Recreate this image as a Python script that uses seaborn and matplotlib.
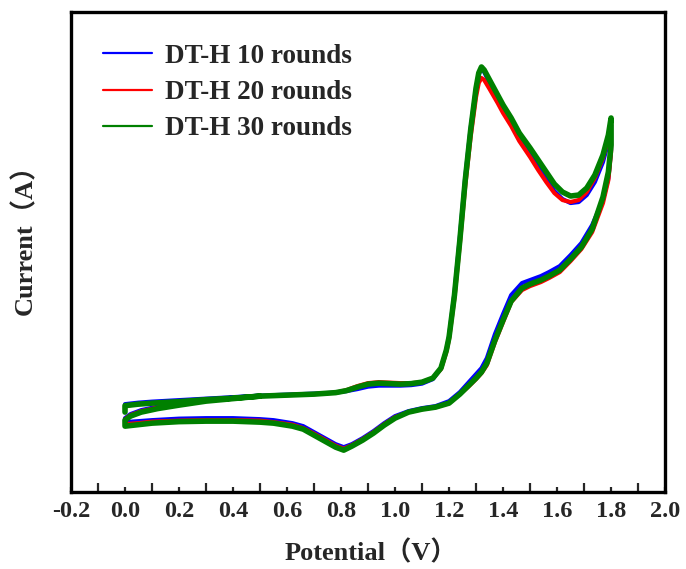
import matplotlib
matplotlib.use("Agg")
import matplotlib.pyplot as plt
from matplotlib.ticker import MultipleLocator
import seaborn as sns
import pandas as pd

# potentials (V) for forward scan, reverse scan and the start of the next cycle
fwd_v = [0.00, 0.00, 0.05, 0.10, 0.20, 0.30, 0.40, 0.50, 0.60, 0.70,
         0.78, 0.82, 0.86, 0.90, 0.94, 0.98, 1.02, 1.06, 1.10, 1.14,
         1.17, 1.19, 1.20, 1.22, 1.24, 1.26, 1.28, 1.30, 1.31, 1.32,
         1.33, 1.35, 1.38, 1.40, 1.43, 1.46, 1.50, 1.53, 1.56, 1.59,
         1.62, 1.65, 1.68, 1.71, 1.74, 1.77, 1.79, 1.80]
rev_v = [1.80, 1.79, 1.77, 1.73, 1.69, 1.65, 1.61, 1.57, 1.54, 1.50,
         1.47, 1.43, 1.40, 1.37, 1.34, 1.32, 1.30, 1.27, 1.24, 1.20,
         1.15, 1.10, 1.05, 1.00, 0.96, 0.92, 0.88, 0.84, 0.81, 0.78,
         0.74, 0.70, 0.66, 0.62, 0.55, 0.50, 0.40, 0.30, 0.20, 0.10,
         0.05, 0.00]
next_v = [0.00, 0.02, 0.06, 0.12, 0.20, 0.30, 0.40, 0.50]

labels = ["DT-H 10 rounds", "DT-H 20 rounds", "DT-H 30 rounds"]
colors = ["#0000FF", "#FF0000", "#008000"]

# current (arbitrary units, mA)
fwd_10 = [0.21, 0.26, 0.275, 0.285, 0.30, 0.315, 0.33, 0.345, 0.355, 0.365,
          0.375, 0.39, 0.41, 0.435, 0.445, 0.445, 0.445, 0.45, 0.465, 0.51,
          0.62, 0.80, 0.94, 1.37, 1.93, 2.53, 3.02, 3.42, 3.56, 3.61,
          3.58, 3.47, 3.32, 3.21, 3.07, 2.92, 2.76, 2.63, 2.51, 2.39,
          2.31, 2.27, 2.28, 2.35, 2.48, 2.68, 2.88, 3.05]
fwd_20 = [0.20, 0.245, 0.26, 0.27, 0.285, 0.305, 0.32, 0.34, 0.35, 0.36,
          0.375, 0.40, 0.44, 0.47, 0.48, 0.475, 0.47, 0.47, 0.48, 0.52,
          0.61, 0.78, 0.91, 1.32, 1.86, 2.44, 2.93, 3.33, 3.47, 3.52,
          3.50, 3.41, 3.27, 3.17, 3.04, 2.89, 2.73, 2.60, 2.48, 2.37,
          2.30, 2.28, 2.30, 2.38, 2.52, 2.72, 2.92, 3.10]
fwd_30 = [0.18, 0.245, 0.26, 0.27, 0.285, 0.305, 0.32, 0.34, 0.35, 0.36,
          0.375, 0.395, 0.43, 0.46, 0.47, 0.465, 0.46, 0.465, 0.48, 0.52,
          0.62, 0.80, 0.93, 1.35, 1.90, 2.50, 3.00, 3.42, 3.57, 3.63,
          3.60, 3.50, 3.35, 3.25, 3.12, 2.97, 2.82, 2.70, 2.58, 2.46,
          2.38, 2.34, 2.35, 2.42, 2.55, 2.75, 2.95, 3.12]

rev_10 = [2.80, 2.52, 2.30, 2.05, 1.87, 1.75, 1.64, 1.58, 1.54, 1.50,
          1.47, 1.35, 1.16, 0.96, 0.72, 0.62, 0.56, 0.47, 0.38, 0.29,
          0.24, 0.22, 0.19, 0.14, 0.07, -0.01, -0.08, -0.14, -0.17, -0.14,
          -0.08, -0.02, 0.04, 0.07, 0.10, 0.11, 0.12, 0.12, 0.115, 0.10,
          0.09, 0.08]
rev_20 = [2.78, 2.50, 2.27, 1.98, 1.81, 1.69, 1.58, 1.52, 1.48, 1.44,
          1.40, 1.28, 1.08, 0.88, 0.65, 0.57, 0.51, 0.43, 0.36, 0.27,
          0.23, 0.21, 0.18, 0.13, 0.06, -0.02, -0.09, -0.15, -0.185, -0.155,
          -0.095, -0.035, 0.02, 0.055, 0.08, 0.095, 0.10, 0.10, 0.095, 0.085,
          0.07, 0.06]
rev_30 = [2.85, 2.58, 2.33, 2.01, 1.83, 1.71, 1.60, 1.54, 1.50, 1.46,
          1.42, 1.29, 1.10, 0.90, 0.67, 0.58, 0.52, 0.44, 0.36, 0.27,
          0.23, 0.21, 0.18, 0.12, 0.05, -0.03, -0.10, -0.16, -0.20, -0.17,
          -0.11, -0.05, 0.01, 0.04, 0.07, 0.08, 0.09, 0.09, 0.085, 0.07,
          0.055, 0.04]

next_10 = [0.12, 0.16, 0.20, 0.235, 0.265, 0.30, 0.325, 0.345]
next_20 = [0.11, 0.15, 0.19, 0.225, 0.255, 0.295, 0.32, 0.34]
next_30 = [0.10, 0.14, 0.18, 0.215, 0.25, 0.29, 0.315, 0.34]

curves = {
    labels[0]: (fwd_10, rev_10, next_10),
    labels[1]: (fwd_20, rev_20, next_20),
    labels[2]: (fwd_30, rev_30, next_30),
}

rows = []
for name, (f, r, n) in curves.items():
    pot = fwd_v + rev_v + next_v
    cur = f + r + n
    for p, c in zip(pot, cur):
        rows.append({"Potential": p, "Current": c, "Sample": name})
df = pd.DataFrame(rows)

sns.set_theme(style="white")
plt.rcParams["font.family"] = ["Liberation Serif", "Noto Sans CJK SC"]
plt.rcParams["font.weight"] = "bold"

fig = plt.figure(figsize=(6.86, 5.69), dpi=100)
ax = fig.add_axes([0.1035, 0.135, 0.866, 0.844])

sns.lineplot(data=df, x="Potential", y="Current", hue="Sample",
             hue_order=labels, palette=colors, sort=False, estimator=None,
             linewidth=3, ax=ax)
ax.lines[2].set_linewidth(4)

ax.set_xlim(-0.2, 2.0)
ax.set_ylim(-0.62, 4.18)
ax.xaxis.set_major_locator(MultipleLocator(0.2))
ax.xaxis.set_minor_locator(MultipleLocator(0.1))
ax.set_xticklabels([f"{t:.1f}" for t in ax.get_xticks()])
ax.set_yticks([])
ax.tick_params(axis="x", which="major", direction="in", length=3.5, width=1.6,
               labelsize=17.5, pad=6, bottom=True)
ax.tick_params(axis="x", which="minor", direction="in", length=6.5, width=1.6,
               bottom=True)
for lab in ax.get_xticklabels():
    lab.set_fontweight("bold")

for s in ax.spines.values():
    s.set_linewidth(2.4)
    s.set_color("black")

ax.set_xlabel("Potential（V）", fontsize=19, fontweight="bold")
ax.set_ylabel("Current（A）", fontsize=19, fontweight="bold")
ax.xaxis.set_label_coords(0.505, -0.1)
ax.yaxis.set_label_coords(-0.057, 0.54)

handles, labs = ax.get_legend_handles_labels()
leg = ax.legend(handles, labs, loc="upper left", bbox_to_anchor=(0.054, 0.934),
                frameon=False, borderaxespad=0, borderpad=0,
                handlelength=1.8, handletextpad=0.5, labelspacing=0.42,
                prop={"size": 19.5, "weight": "bold"})
for line in leg.get_lines():
    line.set_linewidth(1.6)

fig.savefig("out.png", dpi=100)
